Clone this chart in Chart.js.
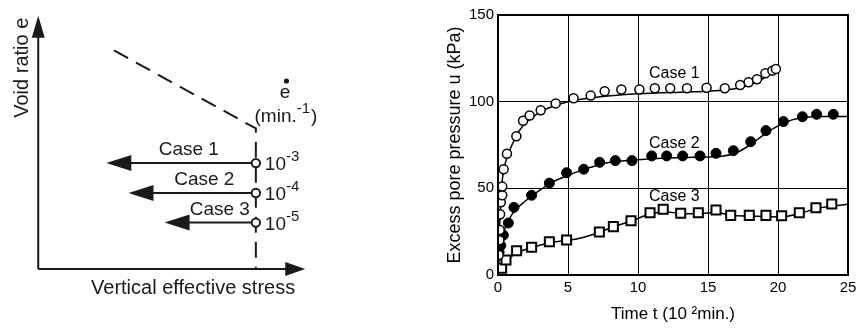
<!DOCTYPE html>
<html>
<head>
<meta charset="utf-8">
<script src="https://cdn.jsdelivr.net/npm/chart.js@4.4.1/dist/chart.umd.min.js"></script>
<style>
  body { margin: 0; background: #fff; }
  #wrap { position: relative; width: 862px; height: 328px; }
  canvas { position: absolute; top: 0; }
</style>
</head>
<body>
<div id="wrap">
  <canvas id="schema" width="430" height="328" style="left:0"></canvas>
  <canvas id="pore" width="432" height="328" style="left:430px"></canvas>
</div>
<script>
// ---- left schematic (arbitrary units, axes run 0..10) ----
const axisEnd = 10;
const caseNames = ['Case 1', 'Case 2', 'Case 3'];
const rateExp = ['-3', '-4', '-5'];
const startStress = 8.15;
const caseVoid = [4.18, 3.0, 1.83];
const arrowTip = [2.55, 3.38, 4.73];
const ncStress = [2.84, 8.15, 8.15];
const ncVoid = [8.63, 5.55, 0];

// ---- right chart: excess pore pressure vs time ----
const case1T = [0.05, 0.1, 0.12, 0.15, 0.2, 0.3, 0.3, 0.4, 0.64, 1.31, 1.79, 2.26, 3.05, 4.12, 5.4, 6.62, 7.62, 8.81, 10.1, 11.2, 12.3, 13.5, 14.9, 16.2, 17.3, 17.9, 18.5, 19.1, 19.6, 19.85];
const case1U = [11.5, 20, 26, 35, 42, 46, 51, 61, 70, 80, 89, 92, 95, 99, 102, 103.5, 106, 107, 107, 107.7, 107.7, 107.7, 108, 107.7, 109.6, 111.2, 112.9, 116.4, 117.9, 118.9];
const case2T = [0.08, 0.2, 0.38, 0.74, 1.14, 2.4, 3.67, 4.9, 6.12, 7.26, 8.38, 9.57, 10.98, 12.05, 13.19, 14.43, 15.57, 16.81, 18.05, 19.14, 20.38, 21.74, 22.76, 23.95];
const case2U = [13, 17, 23, 30, 39, 46, 53, 59, 61, 65, 66, 66, 68.7, 68.7, 68.7, 68.7, 70.2, 71.7, 76.9, 83.3, 88.5, 91.3, 92.7, 92.7];
const case3T = [0.26, 0.57, 1.33, 2.4, 3.67, 4.9, 7.24, 8.24, 9.5, 10.86, 11.8, 13.05, 14.31, 15.57, 16.62, 17.95, 19.14, 20.26, 21.52, 22.71, 23.84];
const case3U = [3.9, 8.7, 14, 16, 19.2, 20.2, 24.8, 27.9, 31.3, 35.9, 37.9, 35.6, 35.9, 37.5, 34.4, 34.4, 34.4, 34.2, 35.9, 38.8, 41];
// fitted curves
const fit1T = [0.03, 0.12, 0.25, 0.45, 0.7, 1, 1.5, 2, 3, 4, 5, 7, 10, 13, 15, 16.5, 17.5, 18.5, 19.3, 20];
const fit1U = [6, 28, 50, 62, 69, 75, 83, 88, 94, 97.5, 100, 102.5, 104.5, 105.5, 106, 107, 108.5, 111.5, 115, 119];
const fit2T = [0.03, 0.2, 0.5, 1, 2, 3, 4, 5, 6, 7, 8, 10, 12, 14, 16, 17, 18, 19, 20, 21, 22, 23, 25];
const fit2U = [6, 18, 27, 35, 43, 49, 54, 57.5, 60.5, 63, 65, 66.5, 67.5, 68, 68.5, 70.5, 75, 81, 86, 89.5, 91, 91.5, 91.5];
const fit3T = [0.1, 0.5, 1.3, 2.5, 3.6, 5, 6, 7.2, 8.3, 9.5, 10.8, 11.9, 13, 14.4, 15.5, 16.6, 18, 20.2, 21.5, 22.8, 25];
const fit3U = [2.5, 7.5, 12.5, 16, 18.5, 20, 21.5, 24.5, 28, 31, 35, 36.5, 35.5, 35.3, 36.2, 34.5, 34, 33.5, 35.3, 38.5, 40.8];
const caseLabelT = [12.6, 12.6, 12.6];
const caseLabelU = [116, 76, 45];

const pts = (xs, ys) => xs.map((x, i) => ({ x: x, y: ys[i] }));
const FONT = '"Liberation Sans", Arial, sans-serif';

function arrowHead(ctx, x, y, dir, len, half) {
    // dir: 'left', 'up', 'right'
    ctx.beginPath();
    if (dir === 'left') {
        ctx.moveTo(x, y); ctx.lineTo(x + len, y - half); ctx.lineTo(x + len, y + half);
    } else if (dir === 'up') {
        ctx.moveTo(x, y); ctx.lineTo(x - half, y + len); ctx.lineTo(x + half, y + len);
    } else {
        ctx.moveTo(x, y); ctx.lineTo(x - len, y - half); ctx.lineTo(x - len, y + half);
    }
    ctx.closePath();
    ctx.fill();
}

function supText(ctx, x, y, base, sup, size, supSize, rise) {
    ctx.textAlign = 'left';
    ctx.textBaseline = 'middle';
    ctx.font = size + 'px ' + FONT;
    ctx.fillText(base, x, y);
    const w = ctx.measureText(base).width;
    ctx.font = supSize + 'px ' + FONT;
    ctx.fillText(sup, x + w, y - rise);
    return x + w + ctx.measureText(sup).width;
}

const schemaPlugin = {
    id: 'schema',
    beforeDatasetsDraw(chart) {
        const ctx = chart.ctx;
        const sx = chart.scales.x, sy = chart.scales.y;
        const x0 = sx.getPixelForValue(0), y0 = sy.getPixelForValue(0);
        const xe = sx.getPixelForValue(axisEnd), ye = sy.getPixelForValue(axisEnd);
        ctx.save();
        ctx.strokeStyle = '#1a1a1a';
        ctx.fillStyle = '#1a1a1a';
        ctx.lineWidth = 2;
        ctx.beginPath();
        ctx.moveTo(x0, y0); ctx.lineTo(x0, ye + 10);
        ctx.moveTo(x0, y0); ctx.lineTo(xe - 10, y0);
        ctx.stroke();
        arrowHead(ctx, x0, ye, 'up', 22, 6.5);
        arrowHead(ctx, xe, y0, 'right', 20, 7);
        // loading paths
        caseVoid.forEach((v, i) => {
            const y = sy.getPixelForValue(v);
            const xs = sx.getPixelForValue(startStress);
            const xt = sx.getPixelForValue(arrowTip[i]);
            ctx.beginPath();
            ctx.moveTo(xs, y); ctx.lineTo(xt + 20, y);
            ctx.stroke();
            arrowHead(ctx, xt, y, 'left', 25, 8);
        });
        ctx.restore();
    },
    afterDraw(chart) {
        const ctx = chart.ctx;
        const sx = chart.scales.x, sy = chart.scales.y;
        ctx.save();
        ctx.fillStyle = '#1a1a1a';
        // axis titles
        ctx.font = '20px ' + FONT;
        ctx.textAlign = 'center';
        ctx.textBaseline = 'middle';
        ctx.fillText('Vertical effective stress', sx.getPixelForValue(5.8), sy.getPixelForValue(-0.76));
        ctx.save();
        ctx.translate(sx.getPixelForValue(-0.58), sy.getPixelForValue(7.95));
        ctx.rotate(-Math.PI / 2);
        ctx.fillText('Void ratio e', 0, 0);
        ctx.restore();
        // case labels and rates
        caseVoid.forEach((v, i) => {
            const y = sy.getPixelForValue(v);
            ctx.font = '19px ' + FONT;
            ctx.textAlign = 'center';
            ctx.textBaseline = 'middle';
            ctx.fillText(caseNames[i], sx.getPixelForValue(5.64 + 0.58 * i), y - 13);
            supText(ctx, sx.getPixelForValue(startStress) + 9, y + 2, '10', rateExp[i], 19, 15, 8);
        });
        // strain rate symbol
        ctx.font = '19px ' + FONT;
        ctx.textAlign = 'center';
        ctx.textBaseline = 'middle';
        const ex = sx.getPixelForValue(9.24), ey = sy.getPixelForValue(6.95);
        ctx.fillText('e', ex, ey);
        ctx.beginPath();
        ctx.arc(ex + 1.5, ey - 12, 2.6, 0, Math.PI * 2);
        ctx.fill();
        const end = supText(ctx, sx.getPixelForValue(8.1), sy.getPixelForValue(6.0), '(min.', '-1', 19, 15, 8);
        ctx.font = '19px ' + FONT;
        ctx.fillText(')', end + 1, sy.getPixelForValue(6.0));
        ctx.restore();
    }
};

new Chart(document.getElementById('schema'), {
    type: 'scatter',
    data: {
        datasets: [
            {
                data: pts(new Array(caseVoid.length).fill(startStress), caseVoid),
                pointRadius: 4.2,
                pointBorderWidth: 2,
                pointBackgroundColor: '#fff',
                pointBorderColor: '#1a1a1a',
                order: 1
            },
            {
                data: pts(ncStress, ncVoid),
                showLine: true,
                borderColor: '#1a1a1a',
                borderWidth: 2,
                borderDash: [16, 9],
                pointRadius: 0,
                order: 2
            }
        ]
    },
    options: {
        responsive: false,
        devicePixelRatio: 1,
        animation: false,
        layout: { padding: 0 },
        plugins: { legend: { display: false }, tooltip: { enabled: false } },
        scales: {
            x: { display: false, min: -1.2, max: 14.44 },
            y: { display: false, min: -2.09, max: 10.38 }
        }
    },
    plugins: [schemaPlugin]
});

const frameAndLabels = {
    id: 'frameAndLabels',
    afterDatasetsDraw(chart) {
        const ctx = chart.ctx;
        const a = chart.chartArea;
        const sx = chart.scales.x, sy = chart.scales.y;
        ctx.save();
        ctx.strokeStyle = '#000';
        ctx.lineWidth = 2;
        ctx.strokeRect(a.left, a.top, a.right - a.left, a.bottom - a.top);
        ctx.fillStyle = '#000';
        ctx.font = '16px ' + FONT;
        ctx.textAlign = 'center';
        ctx.textBaseline = 'middle';
        caseNames.forEach((n, i) => {
            ctx.fillText(n, sx.getPixelForValue(caseLabelT[i]), sy.getPixelForValue(caseLabelU[i]));
        });
        ctx.restore();
    }
};

const curve = (xs, ys) => ({
    data: pts(xs, ys),
    showLine: true,
    borderColor: '#000',
    borderWidth: 1.5,
    pointRadius: 0,
    cubicInterpolationMode: 'monotone',
    order: 2
});

new Chart(document.getElementById('pore'), {
    type: 'scatter',
    data: {
        datasets: [
            curve(fit1T, fit1U),
            curve(fit2T, fit2U),
            curve(fit3T, fit3U),
            {
                data: pts(case1T, case1U),
                pointStyle: 'circle',
                pointRadius: 4.5,
                pointBorderWidth: 1.5,
                pointBackgroundColor: '#fff',
                pointBorderColor: '#000',
                order: 1
            },
            {
                data: pts(case2T, case2U),
                pointStyle: 'circle',
                pointRadius: 5,
                pointBorderWidth: 1,
                pointBackgroundColor: '#000',
                pointBorderColor: '#000',
                order: 1
            },
            {
                data: pts(case3T, case3U),
                pointStyle: 'rect',
                pointRadius: 6.4,
                pointBorderWidth: 2,
                pointBackgroundColor: '#fff',
                pointBorderColor: '#000',
                order: 1
            }
        ]
    },
    options: {
        responsive: false,
        devicePixelRatio: 1,
        animation: false,
        layout: { padding: { top: 15, right: 14, left: 0, bottom: 0 } },
        plugins: { legend: { display: false }, tooltip: { enabled: false } },
        scales: {
            x: {
                min: 0, max: 25,
                ticks: { stepSize: 5, color: '#000', padding: 4, maxRotation: 0, font: { size: 15, family: FONT } },
                grid: { color: '#000', lineWidth: 1, drawTicks: false },
                border: { color: '#000', width: 2 },
                title: { display: true, text: 'Time t (10 \u00B2min.)', color: '#000', font: { size: 17, family: FONT }, padding: { top: 0, bottom: 3 } },
                afterFit(scale) { scale.height = 53; }
            },
            y: {
                min: 0, max: 150,
                ticks: { stepSize: 50, color: '#000', padding: 4, font: { size: 15, family: FONT } },
                grid: { color: '#000', lineWidth: 1, drawTicks: false },
                border: { color: '#000', width: 2 },
                title: { display: true, text: 'Excess pore pressure u (kPa)', color: '#000', font: { size: 18, family: FONT }, padding: { top: 14, bottom: 0 } },
                afterFit(scale) { scale.width = 68; }
            }
        }
    },
    plugins: [frameAndLabels]
});
</script>
</body>
</html>
